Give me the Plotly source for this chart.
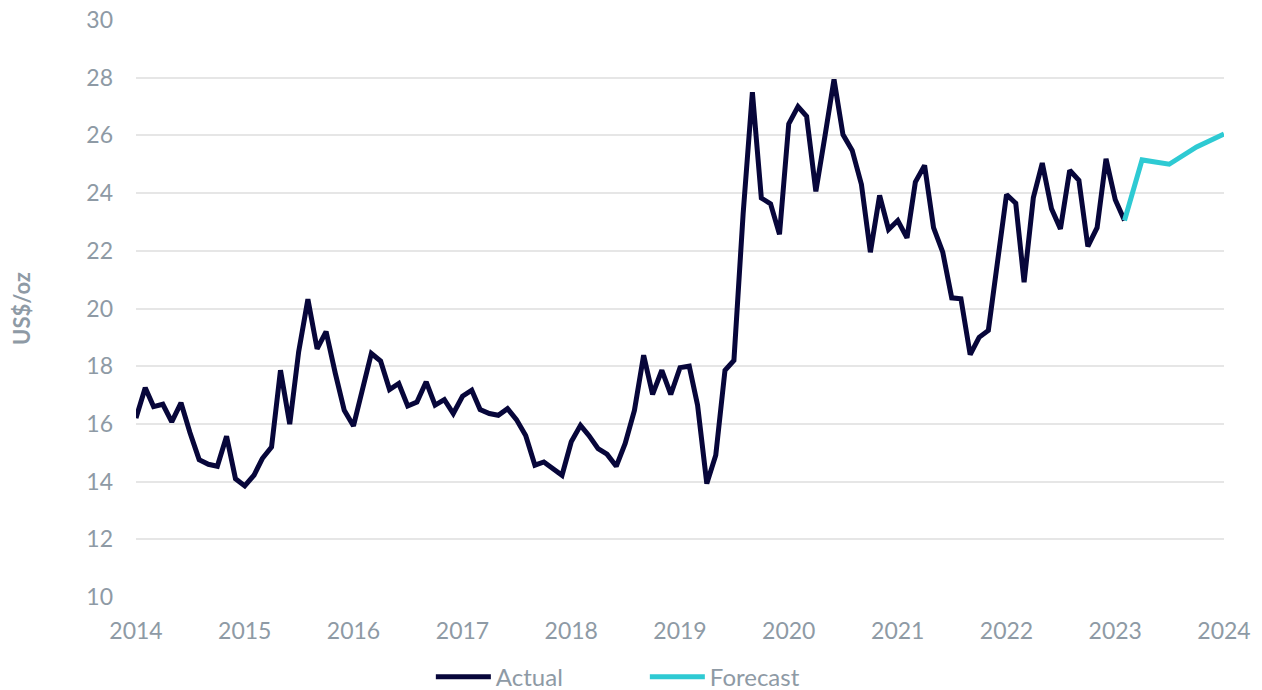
import pandas as pd
import plotly.graph_objects as go

# monthly silver price, Jan 2014 - Feb 2023 (US$/oz)
actual_start = "2014-01-01"
actual_values = [
    16.2, 17.25, 16.6, 16.68, 16.07, 16.73, 15.7, 14.76, 14.6, 14.53, 15.57, 14.1,
    13.85, 14.22, 14.8, 15.2, 17.86, 15.99, 18.5, 20.32, 18.6, 19.2, 17.75, 16.47,
    15.93, 17.17, 18.44, 18.18, 17.19, 17.4, 16.62, 16.76, 17.46, 16.65, 16.84, 16.36,
    16.96, 17.17, 16.5, 16.36, 16.3, 16.53, 16.15, 15.6, 14.57, 14.68, 14.45, 14.22,
    15.38, 15.95, 15.6, 15.14, 14.95, 14.53, 15.32, 16.47, 18.38, 17.02, 17.86, 17.02,
    17.95, 18.0, 16.65, 13.93, 14.91, 17.86, 18.2, 23.3, 27.5, 23.83, 23.63, 22.57,
    26.4, 27.0, 26.66, 24.06, 25.94, 27.94, 26.03, 25.48, 24.3, 21.95, 23.92, 22.74,
    23.05, 22.45, 24.38, 24.96, 22.8, 21.95, 20.37, 20.34, 18.4, 19.0, 19.24, 21.6,
    23.95, 23.65, 20.91, 23.84, 25.04, 23.46, 22.76, 24.79, 24.44, 22.15, 22.8, 25.19,
    23.77, 23.05,
]
forecast_dates = ["2023-02-01", "2023-04-01", "2023-07-01", "2023-10-01", "2024-01-01"]
forecast_values = [23.05, 25.15, 25.0, 25.6, 26.05]

actual_dates = pd.date_range(actual_start, periods=len(actual_values), freq="MS")

grey = "#8e9aa5"
font = "Lato, Noto Sans, sans-serif"

fig = go.Figure()
fig.add_trace(go.Scatter(x=actual_dates, y=actual_values, mode="lines", name="Actual",
                         line=dict(color="#07063a", width=5)))
fig.add_trace(go.Scatter(x=pd.to_datetime(forecast_dates), y=forecast_values, mode="lines",
                         name="Forecast", line=dict(color="#2ecad3", width=5)))

# page body has an 8px margin, so offsets are shifted accordingly
fig.update_layout(
    width=1262, height=720,
    margin=dict(l=128, r=46, t=12, b=131),
    plot_bgcolor="white", paper_bgcolor="white",
    font=dict(family=font, color=grey, size=23),
    showlegend=True,
    legend=dict(orientation="h", x=0.271, xanchor="left", y=-0.139, yanchor="middle",
                font=dict(size=24, color=grey), entrywidth=144, itemwidth=55),
    xaxis=dict(type="date", range=["2014-01-01", "2024-01-01"], dtick="M12", tickformat="%Y",
               tick0="2014-01-01", showgrid=False, zeroline=False, showline=False,
               ticklabelstandoff=18, ticklabeloverflow="allow", automargin=False,
               tickfont=dict(size=23, color=grey)),
    yaxis=dict(range=[10, 30], dtick=2, showgrid=True, gridcolor="#e6e6e6", gridwidth=2,
               zeroline=False, showline=False, ticklabelstandoff=22, ticklabeloverflow="allow",
               automargin=False, tickfont=dict(size=23, color=grey),
               title=dict(text="<b>US$/oz</b>", font=dict(size=22, color=grey), standoff=50)),
)

fig.write_html("out.html")
